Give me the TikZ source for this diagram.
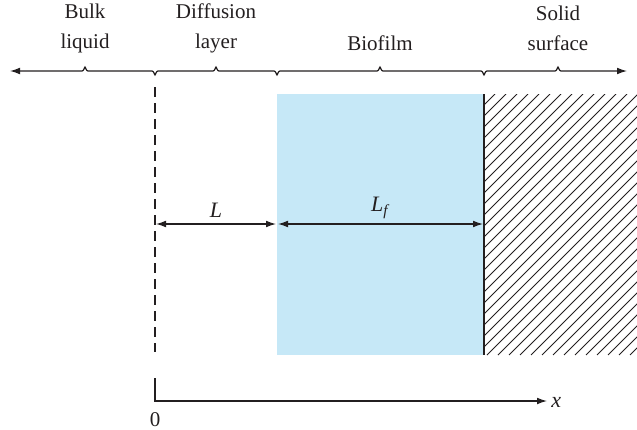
\documentclass[tikz,border=0pt]{standalone}
\usepackage{fontspec}
\setmainfont{Liberation Serif}
\usetikzlibrary{arrows.meta}
\definecolor{ink}{HTML}{231F20}
\definecolor{film}{HTML}{C6E8F7}
\tikzset{
  zone/.style={font=\fontsize{10.5}{15}\selectfont, align=center, text=ink, inner sep=0pt},
  dimlabel/.style={font=\fontsize{11}{13}\selectfont\itshape, text=ink, inner sep=0pt},
  rule/.style={line width=0.6pt, draw=ink},
  dimline/.style={{Latex[length=5pt,width=3.4pt]}-{Latex[length=5pt,width=3.4pt]}, line width=0.6pt, draw=ink, shorten <=0.5pt, shorten >=0.5pt},
  axis/.style={-{Latex[length=5pt,width=3.4pt]}, line width=0.6pt, draw=ink},
  hatch/.style={line width=0.4pt, draw=ink}
}

\begin{document}
\begin{tikzpicture}[x=0.5pt,y=-0.5pt]
        \useasboundingbox (0,0) rectangle (637,429);
        % zone names above the top line
        \node[zone] (bulk) at (85,28) {Bulk\\liquid};
        \node[zone] (diff) at (216,28) {Diffusion\\layer};
        \node[zone] (bio) at (380,43) {Biofilm};
        \node[zone] (solid) at (558,28) {Solid\\surface};

        % top line with the small brace bumps
        \draw[rule, {Latex[length=5pt,width=3.4pt]}-{Latex[length=5pt,width=3.4pt]}] (10,71)
          foreach \p/\h in {85/67,155/75,216/67,277/75,380/67,484/75,558/67}
          { -- (\p-3,71) .. controls (\p-1,71) and (\p-0.6,\h) .. (\p,\h)
                         .. controls (\p+0.6,\h) and (\p+1,71) .. (\p+3,71) }
          -- (627,71);

        % biofilm and solid surface
        \fill[film] (277,94) rectangle (484,355);
        \begin{scope}
          \clip (484,94) rectangle (637,355);
          \foreach \k in {0,...,40}
            \draw[hatch] (223+11*\k,355) -- ++(261,-261);
        \end{scope}
        \draw[rule] (484,94) -- (484,355);

        % interface of the bulk liquid
        \coordinate (top0) at (155,87);
        \coordinate (bot0) at (155,352);
        \draw[rule, dash pattern=on 5pt off 3pt] (top0) -- (bot0);

        % thicknesses
        \coordinate (a) at (155,224);
        \coordinate (b) at (277,224);
        \coordinate (c) at (484,224);
        \draw[dimline] (a) -- (b);
        \draw[dimline] (b) -- (c);
        \node[dimlabel] (lab-L) at (216,210) {L};
        \node[dimlabel] (lab-Lf) at (380,208) {L\textsubscript{\itshape f}};

        % distance axis
        \coordinate (o) at (155,401);
        \coordinate (up) at (155,378);
        \coordinate (xend) at (547,401);
        \draw[axis] (up) -- (o) -- (xend);
        \node[dimlabel, anchor=west] (lab-x) at (551,402) {x};
        \node[zone] (zero) at (155,420) {0};
      \end{tikzpicture}
\end{document}
